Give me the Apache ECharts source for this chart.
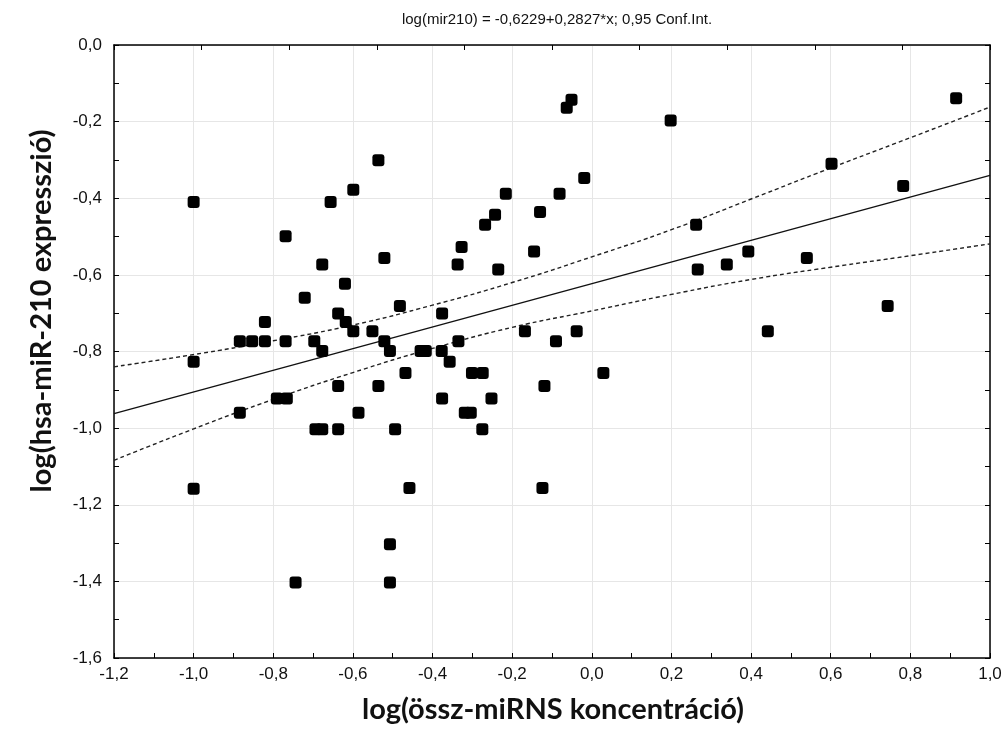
<!DOCTYPE html>
<html>
<head>
<meta charset="utf-8">
<script src="https://cdn.jsdelivr.net/npm/echarts@6/dist/echarts.min.js"></script>
<style>html,body{margin:0;padding:0;background:#fff;}#c{width:1006px;height:749px;}</style>
</head>
<body>
<div id="c"></div>
<script>
// ---- data ----
const xValues = [-1.0,-1.0,-1.0,-0.884,-0.884,-0.853,-0.821,-0.821,-0.791,-0.766,-0.769,-0.769,-0.744,-0.721,-0.697,-0.694,-0.677,-0.677,-0.677,-0.656,-0.637,-0.637,-0.637,-0.620,-0.618,-0.599,-0.599,-0.586,-0.551,-0.536,-0.536,-0.521,-0.521,-0.507,-0.507,-0.507,-0.494,-0.482,-0.468,-0.458,-0.430,-0.417,-0.377,-0.376,-0.376,-0.357,-0.337,-0.335,-0.327,-0.319,-0.304,-0.301,-0.274,-0.275,-0.268,-0.252,-0.243,-0.235,-0.216,-0.168,-0.145,-0.130,-0.124,-0.119,-0.090,-0.081,-0.063,-0.051,-0.038,-0.019,0.029,0.198,0.262,0.266,0.339,0.393,0.442,0.540,0.602,0.743,0.782,0.915];
const yValues = [-0.410,-0.827,-1.158,-0.773,-0.960,-0.773,-0.773,-0.723,-0.923,-0.923,-0.499,-0.773,-1.403,-0.660,-0.773,-1.003,-1.003,-0.573,-0.799,-0.410,-0.701,-0.890,-1.003,-0.623,-0.723,-0.378,-0.747,-0.960,-0.747,-0.301,-0.890,-0.556,-0.773,-0.799,-1.303,-1.403,-1.003,-0.681,-0.856,-1.156,-0.799,-0.799,-0.799,-0.701,-0.923,-0.827,-0.573,-0.773,-0.527,-0.960,-0.960,-0.856,-0.856,-1.003,-0.469,-0.923,-0.443,-0.586,-0.388,-0.747,-0.539,-0.436,-1.156,-0.890,-0.773,-0.388,-0.164,-0.143,-0.747,-0.347,-0.856,-0.197,-0.469,-0.586,-0.573,-0.539,-0.747,-0.556,-0.310,-0.681,-0.368,-0.139];

// regression from the title: log(mir210) = -0,6229 + 0,2827*x
const fitIntercept = -0.6229;
const fitSlope = 0.2827;
const fitRange = [-1.2, 1.0];

// 0,95 confidence band
const ciX     = [-1.2, -1.0, -0.8, -0.6, -0.4, -0.2, 0.0, 0.2, 0.4, 0.6, 0.8, 1.0];
const ciUpper = [-0.840, -0.808, -0.772, -0.731, -0.679, -0.620, -0.553, -0.482, -0.402, -0.321, -0.242, -0.162];
const ciLower = [-1.084, -1.002, -0.925, -0.855, -0.792, -0.737, -0.694, -0.651, -0.612, -0.580, -0.550, -0.519];

const titleText = 'log(mir210) = -0,6229+0,2827*x; 0,95 Conf.Int.';
const xAxisTitle = 'log(össz-miRNS koncentráció)';
const yAxisTitle = 'log(hsa-miR-210 expresszió)';

// ---- chart ----
const points = xValues.map((x, i) => [x, yValues[i]]);
const fitLine = fitRange.map(x => [x, fitIntercept + fitSlope * x]);
const upperLine = ciX.map((x, i) => [x, ciUpper[i]]);
const lowerLine = ciX.map((x, i) => [x, ciLower[i]]);
const fmt = v => v.toFixed(1).replace('.', ',');
const tickFont = { fontFamily: 'Liberation Sans Narrow, Liberation Sans, Arial', fontSize: 17, color: '#111' };
const axisTitleFont = 'bold 29px Lato, "Open Sans", sans-serif';

const GL = 114, GR = 16, GT = 45, GB = 91;

const chart = echarts.init(document.getElementById('c'), null, { renderer: 'canvas' });
chart.setOption({
  backgroundColor: '#fff',
  animation: false,
  title: {
    text: titleText,
    left: 552, top: 7, textAlign: 'center',
    textStyle: { fontFamily: 'Liberation Sans Narrow, Liberation Sans, Arial', fontSize: 15, fontWeight: 'normal', color: '#111' }
  },
  grid: { left: GL, right: GR, top: GT, bottom: GB, containLabel: false },
  xAxis: [{
    type: 'value', min: -1.2, max: 1.0, interval: 0.2, position: 'bottom',
    axisLine: { show: true, onZero: false, lineStyle: { color: '#000', width: 1.5 } },
    axisTick: { show: true, inside: true, length: 5, lineStyle: { color: '#000' } },
    minorTick: { show: true, splitNumber: 2, length: 5, lineStyle: { color: '#000' } },
    axisLabel: { formatter: fmt, margin: 8, ...tickFont },
    splitLine: { show: true, lineStyle: { color: '#e6e6e6', width: 1 } }
  }, {
    type: 'value', min: 0, max: 10, interval: 1, position: 'top',
    axisLine: { show: true, onZero: false, lineStyle: { color: '#000', width: 1.5 } },
    axisTick: { show: true, inside: true, length: 5, lineStyle: { color: '#000' } },
    axisLabel: { show: false }, splitLine: { show: false }
  }],
  yAxis: [{
    type: 'value', min: -1.6, max: 0, interval: 0.2, position: 'left',
    axisLine: { show: true, onZero: false, lineStyle: { color: '#000', width: 1.5 } },
    axisTick: { show: true, inside: true, length: 5, lineStyle: { color: '#000' } },
    minorTick: { show: true, splitNumber: 2, length: 5, lineStyle: { color: '#000' } },
    axisLabel: { formatter: fmt, margin: 12, ...tickFont },
    splitLine: { show: true, lineStyle: { color: '#e6e6e6', width: 1 } }
  }, {
    type: 'value', min: -1.6, max: 0, interval: 0.1, position: 'right',
    axisLine: { show: true, onZero: false, lineStyle: { color: '#000', width: 1.5 } },
    axisTick: { show: true, inside: true, length: 5, lineStyle: { color: '#000' } },
    axisLabel: { show: false }, splitLine: { show: false }
  }],
  graphic: [
    { type: 'text', x: 553, y: 710, style: { text: xAxisTitle, textAlign: 'center', textVerticalAlign: 'middle', font: axisTitleFont, fill: '#111' } },
    { type: 'text', x: 42, y: 311, rotation: Math.PI / 2, style: { text: yAxisTitle, textAlign: 'center', textVerticalAlign: 'middle', font: axisTitleFont, fill: '#111' } }
  ],
  series: [
    { type: 'line', data: upperLine, smooth: true, symbol: 'none', xAxisIndex: 0, yAxisIndex: 0,
      lineStyle: { color: '#222', width: 1.4, type: [4, 3] }, z: 2 },
    { type: 'line', data: lowerLine, smooth: true, symbol: 'none', xAxisIndex: 0, yAxisIndex: 0,
      lineStyle: { color: '#222', width: 1.4, type: [4, 3] }, z: 2 },
    { type: 'line', data: fitLine, symbol: 'none', xAxisIndex: 0, yAxisIndex: 0,
      lineStyle: { color: '#111', width: 1.4 }, z: 2 },
    { type: 'scatter', data: points, symbol: 'roundRect', symbolSize: 12, xAxisIndex: 0, yAxisIndex: 0,
      itemStyle: { color: '#000', opacity: 1 }, z: 3 }
  ]
});
</script>
</body>
</html>
